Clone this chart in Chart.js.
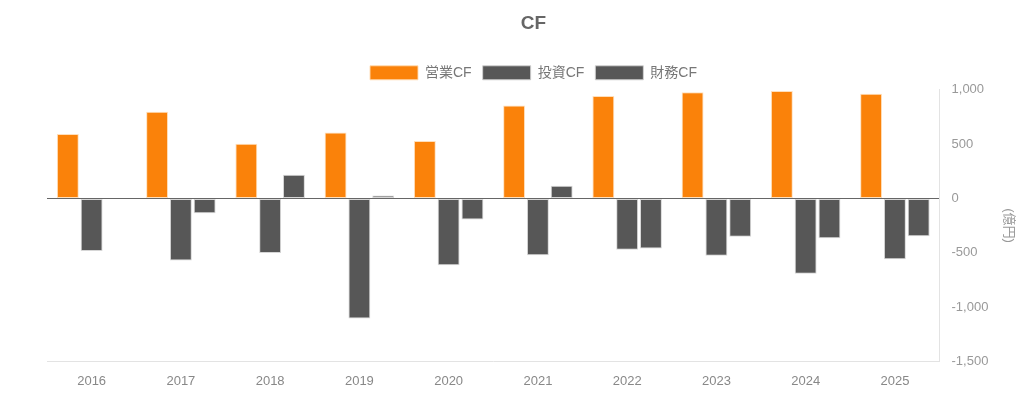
<!DOCTYPE html>
<html>
<head>
<meta charset="utf-8">
<script src="https://cdn.jsdelivr.net/npm/chart.js@4/dist/chart.umd.min.js"></script>
<style>
html,body{margin:0;padding:0;background:#fff;}
#wrap{width:1024px;height:395px;}
</style>
</head>
<body>
<div id="wrap"><canvas id="c"></canvas></div>
<script>
const categories = ['2016','2017','2018','2019','2020','2021','2022','2023','2024','2025'];
const operatingCF = [593, 799, 503, 608, 528, 855, 944, 978, 988, 963];
const investingCF = [-484, -571, -503, -1105, -614, -522, -472, -528, -694, -559];
const financingCF = [0, -136, 219, 28, -194, 117, -460, -352, -367, -349];
const seriesNames = ['営業CF', '投資CF', '財務CF'];
const yTicks = [-1500, -1000, -500, 0, 500, 1000];

const FONT = '"Liberation Sans", Arial, "Noto Sans CJK JP", sans-serif';
Chart.defaults.font.family = FONT;

new Chart(document.getElementById('c'), {
  type: 'bar',
  data: {
    labels: categories,
    datasets: [
      {label: seriesNames[0], data: operatingCF, backgroundColor: '#fa820a', borderColor: 'rgba(255,220,180,0.9)', borderWidth: 1, borderSkipped: false},
      {label: seriesNames[1], data: investingCF, backgroundColor: '#575757', borderColor: 'rgba(210,210,210,0.9)', borderWidth: 1, borderSkipped: false},
      {label: seriesNames[2], data: financingCF, backgroundColor: '#575757', borderColor: 'rgba(210,210,210,0.9)', borderWidth: 1, borderSkipped: false}
    ]
  },
  options: {
    responsive: true,
    maintainAspectRatio: false,
    animation: false,
    layout: {padding: {left: 47, right: 4, top: 0, bottom: -6}},
    datasets: {bar: {categoryPercentage: 0.8, barPercentage: 0.92}},
    plugins: {
      title: {display: true, text: 'CF', color: '#666', font: {size: 19, weight: 'bold', family: FONT}, padding: {top: 12, bottom: 20}},
      legend: {
        display: true,
        labels: {boxWidth: 48, boxHeight: 14, color: '#777', font: {size: 14, family: FONT}, padding: 11}
      },
      tooltip: {enabled: false}
    },
    scales: {
      x: {
        grid: {display: false, drawTicks: false},
        border: {display: true, color: '#e3e3e3'},
        ticks: {color: '#888', font: {size: 13, family: FONT}, padding: 12}
      },
      y: {
        position: 'right',
        min: -1500, max: 1000,
        afterBuildTicks: (axis) => { axis.ticks = yTicks.map(v => ({value: v})); },
        grid: {
          drawTicks: false,
          color: (ctx) => (ctx.tick && ctx.tick.value === 0) ? '#666' : 'rgba(0,0,0,0)',
          lineWidth: 1
        },
        border: {display: true, color: '#e3e3e3'},
        ticks: {color: '#999', font: {size: 13, family: FONT}, padding: 12,
          callback: (v) => Number(v).toLocaleString('en-US')},
        title: {display: true, text: '(億円)', color: '#999', font: {size: 13, family: FONT}, padding: {top: 4, bottom: 0}}
      }
    }
  }
});
</script>
</body>
</html>
